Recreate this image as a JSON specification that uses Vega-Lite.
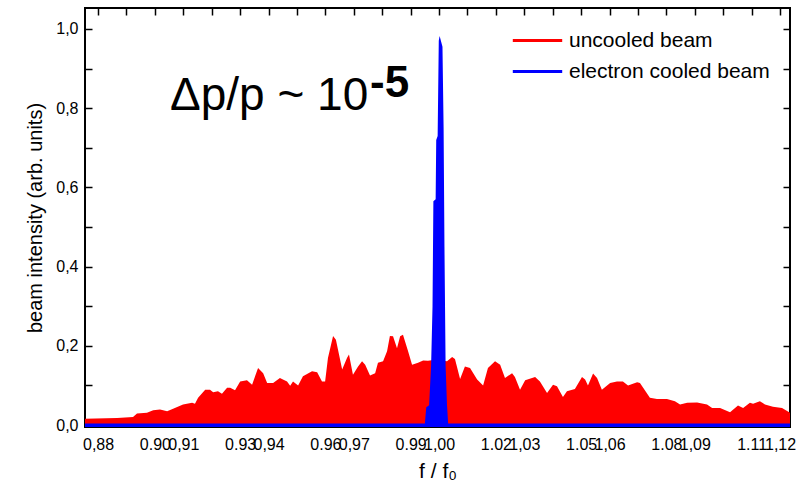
{
  "$schema": "https://vega.github.io/schema/vega-lite/v6.json",
  "width": 705,
  "height": 419,
  "autosize": {"type": "none"},
  "padding": {"left": 85, "top": 8, "right": 16, "bottom": 62},
  "background": "#ffffff",
  "config": {
    "view": {"stroke": "#000000", "strokeWidth": 2},
    "font": "Liberation Sans",
    "axis": {"grid": false, "domain": false, "tickColor": "#000000", "tickWidth": 1.5, "labelColor": "#000000", "titleColor": "#000000", "labelFont": "Liberation Sans", "titleFont": "Liberation Sans"}
  },
  "datasets": {
    "uncooled": [
      {"f": 0.8754, "I": 0.016}, {"f": 0.8867, "I": 0.018}, {"f": 0.8923, "I": 0.020}, {"f": 0.8937, "I": 0.029},
      {"f": 0.8972, "I": 0.031}, {"f": 0.8994, "I": 0.037}, {"f": 0.9018, "I": 0.039}, {"f": 0.9043, "I": 0.035},
      {"f": 0.9064, "I": 0.041}, {"f": 0.9099, "I": 0.052}, {"f": 0.9131, "I": 0.056}, {"f": 0.9141, "I": 0.054},
      {"f": 0.9152, "I": 0.069}, {"f": 0.9177, "I": 0.089}, {"f": 0.9194, "I": 0.089}, {"f": 0.9205, "I": 0.083},
      {"f": 0.9222, "I": 0.085}, {"f": 0.9236, "I": 0.079}, {"f": 0.9254, "I": 0.094}, {"f": 0.9265, "I": 0.094},
      {"f": 0.9282, "I": 0.088}, {"f": 0.9300, "I": 0.110}, {"f": 0.9324, "I": 0.113}, {"f": 0.9342, "I": 0.102},
      {"f": 0.9363, "I": 0.144}, {"f": 0.9381, "I": 0.131}, {"f": 0.9395, "I": 0.106}, {"f": 0.9416, "I": 0.106},
      {"f": 0.9440, "I": 0.119}, {"f": 0.9465, "I": 0.110}, {"f": 0.9476, "I": 0.099}, {"f": 0.9486, "I": 0.110},
      {"f": 0.9504, "I": 0.100}, {"f": 0.9521, "I": 0.123}, {"f": 0.9553, "I": 0.136}, {"f": 0.9571, "I": 0.133},
      {"f": 0.9588, "I": 0.110}, {"f": 0.9599, "I": 0.110}, {"f": 0.9609, "I": 0.169}, {"f": 0.9627, "I": 0.225},
      {"f": 0.9637, "I": 0.215}, {"f": 0.9659, "I": 0.140}, {"f": 0.9676, "I": 0.169}, {"f": 0.9683, "I": 0.178},
      {"f": 0.9697, "I": 0.127}, {"f": 0.9715, "I": 0.148}, {"f": 0.9729, "I": 0.161}, {"f": 0.9740, "I": 0.152},
      {"f": 0.9757, "I": 0.125}, {"f": 0.9775, "I": 0.131}, {"f": 0.9785, "I": 0.157}, {"f": 0.9803, "I": 0.161},
      {"f": 0.9817, "I": 0.186}, {"f": 0.9827, "I": 0.225}, {"f": 0.9838, "I": 0.224}, {"f": 0.9852, "I": 0.194},
      {"f": 0.9863, "I": 0.224}, {"f": 0.9873, "I": 0.228}, {"f": 0.9891, "I": 0.186}, {"f": 0.9905, "I": 0.152},
      {"f": 0.9926, "I": 0.157}, {"f": 0.9944, "I": 0.163}, {"f": 0.9961, "I": 0.162}, {"f": 0.9986, "I": 0.165},
      {"f": 1.0028, "I": 0.161}, {"f": 1.0046, "I": 0.172}, {"f": 1.0056, "I": 0.167}, {"f": 1.0074, "I": 0.116},
      {"f": 1.0091, "I": 0.148}, {"f": 1.0109, "I": 0.144}, {"f": 1.0134, "I": 0.115}, {"f": 1.0155, "I": 0.100},
      {"f": 1.0172, "I": 0.144}, {"f": 1.0197, "I": 0.161}, {"f": 1.0215, "I": 0.152}, {"f": 1.0232, "I": 0.119},
      {"f": 1.0257, "I": 0.131}, {"f": 1.0267, "I": 0.121}, {"f": 1.0285, "I": 0.089}, {"f": 1.0303, "I": 0.113},
      {"f": 1.0338, "I": 0.121}, {"f": 1.0355, "I": 0.110}, {"f": 1.0380, "I": 0.081}, {"f": 1.0401, "I": 0.102},
      {"f": 1.0415, "I": 0.098}, {"f": 1.0436, "I": 0.071}, {"f": 1.0450, "I": 0.085}, {"f": 1.0478, "I": 0.091},
      {"f": 1.0503, "I": 0.121}, {"f": 1.0514, "I": 0.115}, {"f": 1.0524, "I": 0.100}, {"f": 1.0542, "I": 0.130},
      {"f": 1.0556, "I": 0.119}, {"f": 1.0573, "I": 0.089}, {"f": 1.0602, "I": 0.106}, {"f": 1.0626, "I": 0.110},
      {"f": 1.0647, "I": 0.110}, {"f": 1.0665, "I": 0.100}, {"f": 1.0697, "I": 0.108}, {"f": 1.0707, "I": 0.106},
      {"f": 1.0742, "I": 0.069}, {"f": 1.0767, "I": 0.066}, {"f": 1.0802, "I": 0.066}, {"f": 1.0830, "I": 0.060},
      {"f": 1.0848, "I": 0.052}, {"f": 1.0873, "I": 0.056}, {"f": 1.0908, "I": 0.057}, {"f": 1.0943, "I": 0.052},
      {"f": 1.0961, "I": 0.043}, {"f": 1.0989, "I": 0.043}, {"f": 1.1024, "I": 0.032}, {"f": 1.1052, "I": 0.049},
      {"f": 1.1070, "I": 0.043}, {"f": 1.1094, "I": 0.056}, {"f": 1.1105, "I": 0.054}, {"f": 1.1129, "I": 0.060},
      {"f": 1.1147, "I": 0.052}, {"f": 1.1175, "I": 0.046}, {"f": 1.1207, "I": 0.043}, {"f": 1.1235, "I": 0.031}
    ],
    "cooled": [
      {"f": 0.8754, "I": 0.004}, {"f": 0.9950, "I": 0.004}, {"f": 0.9955, "I": 0.045}, {"f": 0.9965, "I": 0.05},
      {"f": 0.9972, "I": 0.15}, {"f": 0.9977, "I": 0.3}, {"f": 0.9980, "I": 0.565}, {"f": 0.9988, "I": 0.57},
      {"f": 0.9990, "I": 0.72}, {"f": 0.9995, "I": 0.73}, {"f": 0.9999, "I": 0.97}, {"f": 1.0002, "I": 0.982},
      {"f": 1.0012, "I": 0.955}, {"f": 1.0016, "I": 0.75}, {"f": 1.0019, "I": 0.45}, {"f": 1.0023, "I": 0.15},
      {"f": 1.0028, "I": 0.05}, {"f": 1.0032, "I": 0.004}, {"f": 1.1235, "I": 0.004}
    ],
    "note": [{"label": "Δp/p ~ 10"}],
    "exponent": [{"label": "-5"}]
  },
  "layer": [
    {
      "data": {"name": "uncooled"},
      "mark": {"type": "area", "interpolate": "linear", "clip": true},
      "encoding": {
        "x": {
          "field": "f", "type": "quantitative",
          "scale": {"domain": [0.8754, 1.1235], "nice": false, "zero": false},
          "axis": {
            "orient": "bottom",
            "values": [0.88, 0.89, 0.90, 0.91, 0.92, 0.93, 0.94, 0.95, 0.96, 0.97, 0.98, 0.99, 1.00, 1.01, 1.02, 1.03, 1.04, 1.05, 1.06, 1.07, 1.08, 1.09, 1.10, 1.11, 1.12],
            "labelExpr": "(round((datum.value-0.88)*100)%3==0) ? replace(format(datum.value,'.2f'),'.',',') : ((round((datum.value-0.88)*100)%3==2) ? format(datum.value,'.2f') : '')",
            "tickSize": -7,
            "labelPadding": 16,
            "labelFontSize": 16,
            "labelOverlap": false,
            "labelFlush": false,
            "labelBound": false,
            "title": "f / f₀",
            "titleFontSize": 21,
            "titleFontWeight": "normal",
            "titlePadding": 8
          }
        },
        "y": {
          "field": "I", "type": "quantitative",
          "scale": {"domain": [-0.005, 1.053], "nice": false, "zero": false},
          "axis": {
            "orient": "left",
            "values": [0, 0.1, 0.2, 0.3, 0.4, 0.5, 0.6, 0.7, 0.8, 0.9, 1.0],
            "labelExpr": "(round(datum.value*10)%2==0) ? replace(format(datum.value,'.1f'),'.',',') : ''",
            "tickSize": -7,
            "labelPadding": 14,
            "labelFontSize": 16,
            "labelOverlap": false,
            "labelBound": false,
            "title": "beam intensity (arb. units)",
            "titleFontSize": 20,
            "titleFontWeight": "normal",
            "titlePadding": 10
          }
        },
        "y2": {"datum": 0},
        "color": {
          "datum": "uncooled beam",
          "scale": {"domain": ["uncooled beam", "electron cooled beam"], "range": ["#ff0000", "#0000ff"]},
          "legend": {
            "title": null,
            "orient": "none",
            "legendX": 432,
            "legendY": 12,
            "symbolType": "M-1.3,0H1.3",
            "symbolSize": 1444,
            "symbolStrokeWidth": 3,
            "labelFontSize": 21,
            "labelColor": "#000000",
            "labelFont": "Liberation Sans",
            "labelLimit": 0,
            "rowPadding": 0,
            "labelOffset": 11,
            "encode": {"symbols": {"update": {"stroke": {"scale": "color", "field": "value"}, "fillOpacity": {"value": 0}}}}
          }
        }
      }
    },
    {
      "data": {"name": "cooled"},
      "mark": {"type": "area", "interpolate": "linear", "clip": true},
      "encoding": {
        "x": {
          "field": "f", "type": "quantitative",
          "axis": {
            "orient": "top",
            "values": [0.88, 0.89, 0.90, 0.91, 0.92, 0.93, 0.94, 0.95, 0.96, 0.97, 0.98, 0.99, 1.00, 1.01, 1.02, 1.03, 1.04, 1.05, 1.06, 1.07, 1.08, 1.09, 1.10, 1.11, 1.12],
            "labels": false,
            "tickSize": -7,
            "title": null
          }
        },
        "y": {
          "field": "I", "type": "quantitative",
          "axis": {
            "orient": "right",
            "values": [0, 0.1, 0.2, 0.3, 0.4, 0.5, 0.6, 0.7, 0.8, 0.9, 1.0],
            "labels": false,
            "tickSize": -7,
            "title": null
          }
        },
        "y2": {"datum": -0.005},
        "color": {"datum": "electron cooled beam"}
      }
    },
    {
      "data": {"name": "note"},
      "mark": {"type": "text", "align": "left", "baseline": "alphabetic", "fontSize": 46, "font": "Liberation Sans", "color": "#000000"},
      "encoding": {
        "text": {"field": "label", "type": "nominal"},
        "x": {"datum": 0.9053, "type": "quantitative", "axis": null},
        "y": {"datum": 0.795, "type": "quantitative", "axis": null}
      }
    },
    {
      "data": {"name": "exponent"},
      "mark": {"type": "text", "align": "left", "baseline": "alphabetic", "fontSize": 44, "fontWeight": "bold", "font": "Liberation Sans", "color": "#000000"},
      "encoding": {
        "text": {"field": "label", "type": "nominal"},
        "x": {"datum": 0.9757, "type": "quantitative", "axis": null},
        "y": {"datum": 0.8275, "type": "quantitative", "axis": null}
      }
    }
  ],
  "resolve": {"axis": {"x": "independent", "y": "independent"}}
}
